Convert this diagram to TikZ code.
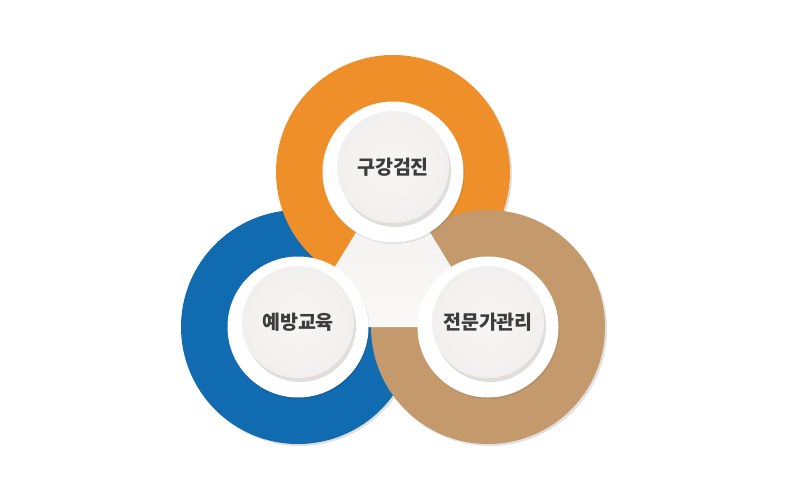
\documentclass[tikz,border=0pt]{standalone}
\usepackage{fontspec}
\newfontfamily\krfont{Noto Sans CJK KR}
\usepackage{xcolor}
\usepackage{tikz}
\usetikzlibrary{shadows,positioning}

\definecolor{ringorange}{HTML}{EE8F2A}
\definecolor{ringblue}{HTML}{106BB0}
\definecolor{ringtan}{HTML}{C49A6C}
\definecolor{discgray}{HTML}{F1F0EE}
\definecolor{discshade}{HTML}{E0DDDA}
\definecolor{labelgray}{HTML}{3C3C3C}

\begin{document}
\begin{tikzpicture}[
    x=1pt, y=-1pt,
    ring/.style={circle, inner sep=0pt, minimum size=234pt,
        drop shadow={shadow xshift=2pt, shadow yshift=-2pt, opacity=0.12, fill=black}},
    plate/.style={circle, fill=white, inner sep=0pt, minimum size=141pt,
        drop shadow={shadow xshift=1pt, shadow yshift=-1.5pt, opacity=0.08, fill=black}},
    disc/.style={circle, inner sep=0pt, minimum size=112pt, inner color=white!40!discgray, outer color=discgray,
        drop shadow={shadow xshift=2pt, shadow yshift=-4pt, opacity=1, fill=discshade},
        font=\krfont\bfseries\fontsize{19.5}{22}\selectfont, text=labelgray},
]
\useasboundingbox (0,0) rectangle (800,500);

% Rings
\node[ring, fill=ringblue] (education) at (298,327) {};
\node[ring, fill=ringorange] (checkup) at (393,172) {};
\node[ring, fill=ringtan] (care) at (488,327) {};

% Center
\shade[top color=discgray, bottom color=white!60!discgray]
    (checkup.center) -- (education.center) -- (care.center) -- cycle;

% Plates
\node[plate] (checkupplate) at (checkup) {};
\node[plate] (educationplate) at (education) {};
\node[plate] (careplate) at (care) {};

% Labels
\node[disc] (checkuplabel) at ([yshift=5pt]checkup) {구강검진};
\node[disc] (educationlabel) at ([yshift=5pt]education) {예방교육};
\node[disc] (carelabel) at ([yshift=5pt]care) {전문가관리};

\end{tikzpicture}
\end{document}
